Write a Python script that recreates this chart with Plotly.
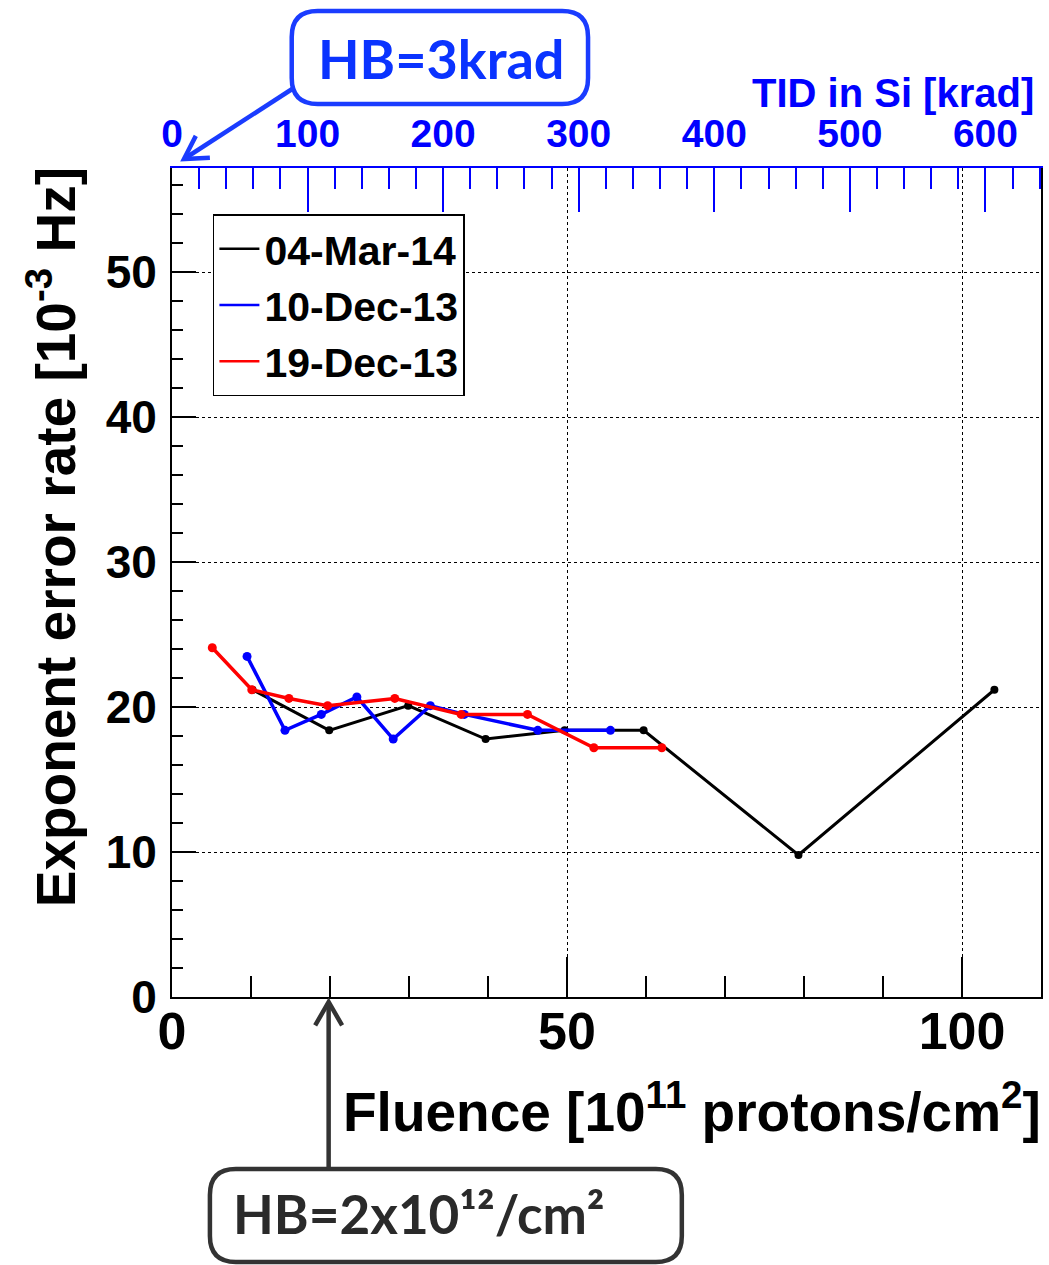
import numpy as np
import plotly.graph_objects as go

# ---------------- data ----------------
series_names = ["04-Mar-14", "10-Dec-13", "19-Dec-13"]
series_colors = ["#000000", "#0000ff", "#ff0000"]

fluence_mar14 = [10.2, 19.9, 29.9, 39.7, 49.7, 59.7, 79.3, 104.1]
rate_mar14 = [21.2, 18.4, 20.1, 17.8, 18.4, 18.4, 9.8, 21.2]

fluence_dec10 = [9.5, 14.3, 18.9, 23.4, 28.0, 32.7, 37.0, 46.3, 55.5]
rate_dec10 = [23.5, 18.4, 19.5, 20.7, 17.8, 20.1, 19.5, 18.4, 18.4]

fluence_dec19 = [5.1, 10.1, 14.8, 19.7, 28.2, 36.6, 45.0, 53.4, 62.0]
rate_dec19 = [24.1, 21.2, 20.6, 20.1, 20.6, 19.5, 19.5, 17.2, 17.2]

fluence_range = [0, 110]
rate_range = [0, 57.2]
tid_range = [0, 641]

# ---------------- layout geometry ----------------
W_FIG, H_FIG = 1049, 1265
L, R, T, B = 172, 1043, 168, 997
PW, PH = R - L, B - T


def pxx(p):
    return (p - L) / PW


def pxy(p):
    return (B - p) / PH


def rounded_rect(x0, y0, x1, y1, r):
    pts = [
        f"M {pxx(x0 + r)} {pxy(y0)}",
        f"L {pxx(x1 - r)} {pxy(y0)}",
        f"Q {pxx(x1)} {pxy(y0)} {pxx(x1)} {pxy(y0 + r)}",
        f"L {pxx(x1)} {pxy(y1 - r)}",
        f"Q {pxx(x1)} {pxy(y1)} {pxx(x1 - r)} {pxy(y1)}",
        f"L {pxx(x0 + r)} {pxy(y1)}",
        f"Q {pxx(x0)} {pxy(y1)} {pxx(x0)} {pxy(y1 - r)}",
        f"L {pxx(x0)} {pxy(y0 + r)}",
        f"Q {pxx(x0)} {pxy(y0)} {pxx(x0 + r)} {pxy(y0)}",
        "Z",
    ]
    return " ".join(pts)


def arrow_paths(tail, head, arm=24, ang=32):
    tx, ty = tail
    hx, hy = head
    v = np.array([tx - hx, ty - hy], dtype=float)
    v /= np.linalg.norm(v)
    a = np.radians(ang)
    rot = lambda t: np.array([[np.cos(t), -np.sin(t)], [np.sin(t), np.cos(t)]])
    p1 = np.array([hx, hy]) + arm * rot(a) @ v
    p2 = np.array([hx, hy]) + arm * rot(-a) @ v
    shaft = f"M {pxx(tx)} {pxy(ty)} L {pxx(hx)} {pxy(hy)}"
    head_p = (f"M {pxx(p1[0])} {pxy(p1[1])} L {pxx(hx)} {pxy(hy)} "
              f"L {pxx(p2[0])} {pxy(p2[1])}")
    return shaft, head_p


ROOTFONT = "Liberation Sans, Arial, Helvetica, sans-serif"
BOXFONT = "Lato, Open Sans, sans-serif"

fig = go.Figure()

data = [
    (fluence_mar14, rate_mar14, 3, 8),
    (fluence_dec10, rate_dec10, 3.5, 9),
    (fluence_dec19, rate_dec19, 3.5, 9),
]
for (xs, ys, lw, ms), name, col in zip(data, series_names, series_colors):
    fig.add_trace(go.Scatter(
        x=xs, y=ys, mode="lines+markers", name=name, showlegend=False,
        line=dict(color=col, width=lw), marker=dict(color=col, size=ms),
    ))

# legend-only entries (line samples)
for name, col in zip(series_names, series_colors):
    fig.add_trace(go.Scatter(
        x=[None], y=[None], mode="lines", name=name,
        line=dict(color=col, width=2.5), xaxis="x2",
    ))

fig.update_layout(
    width=W_FIG, height=H_FIG,
    margin=dict(l=L, r=W_FIG - R, t=T, b=H_FIG - B, pad=0),
    paper_bgcolor="white", plot_bgcolor="white",
    font=dict(family=ROOTFONT, color="black"),
    xaxis=dict(
        range=fluence_range, showline=True, linecolor="black", linewidth=2,
        mirror=False, ticks="inside", ticklen=40, tickwidth=1.5, tickcolor="black",
        dtick=50, tick0=0, showgrid=True, gridcolor="black", griddash="dot",
        gridwidth=1.2, zeroline=False,
        tickfont=dict(size=52, weight="bold", family=ROOTFONT),
        ticklabelstandoff=-12,
        minor=dict(dtick=10, ticks="inside", ticklen=21, tickwidth=1.5,
                   tickcolor="black", showgrid=False),
    ),
    xaxis2=dict(
        range=tid_range, overlaying="x", side="top", anchor="y",
        showline=True, linecolor="#0000ff", linewidth=2,
        ticks="inside", ticklen=44, tickwidth=1.5, tickcolor="#0000ff",
        dtick=100, tick0=0, showgrid=False, zeroline=False,
        tickfont=dict(size=39, weight="bold", color="#0000ff", family=ROOTFONT),
        ticklabelstandoff=3,
        minor=dict(dtick=20, ticks="inside", ticklen=21, tickwidth=1.5,
                   tickcolor="#0000ff", showgrid=False),
    ),
    yaxis=dict(
        range=rate_range, showline=True, linecolor="black", linewidth=2,
        mirror=True, ticks="inside", ticklen=24, tickwidth=1.5, tickcolor="black",
        dtick=10, tick0=0, showgrid=True, gridcolor="black", griddash="dot",
        gridwidth=1.2, zeroline=False,
        tickfont=dict(size=46, weight="bold", family=ROOTFONT),
        ticklabelstandoff=4,
        minor=dict(dtick=2, ticks="inside", ticklen=11, tickwidth=1.5,
                   tickcolor="black", showgrid=False),
    ),
    legend=dict(
        x=pxx(213), y=pxy(214), xanchor="left", yanchor="top",
        bordercolor="black", borderwidth=1.5, bgcolor="white",
        font=dict(size=41, weight="bold", family=ROOTFONT),
        itemwidth=40, tracegroupgap=0,
    ),
)

annotations = [
    dict(text="Exponent error rate [10<sup>-3</sup> Hz]", textangle=-90,
         x=pxx(52), y=pxy(165), xref="paper", yref="paper",
         xanchor="center", yanchor="top", showarrow=False,
         font=dict(size=55, weight="bold", family=ROOTFONT)),
    dict(text="Fluence [10<sup>11</sup> protons/cm<sup>2</sup>]",
         x=pxx(1045), y=pxy(1108), xref="paper", yref="paper",
         xanchor="right", yanchor="middle", showarrow=False,
         font=dict(size=55, weight="bold", family=ROOTFONT)),
    dict(text="TID in Si [krad]",
         x=pxx(1038), y=pxy(93), xref="paper", yref="paper",
         xanchor="right", yanchor="middle", showarrow=False,
         font=dict(size=40, weight="bold", color="#0000ff", family=ROOTFONT)),
    dict(text="HB=3krad",
         x=pxx(442), y=pxy(58), xref="paper", yref="paper",
         xanchor="center", yanchor="middle", showarrow=False,
         font=dict(size=54, weight="bold", color="#0a33ff", family=BOXFONT)),
    dict(text="HB=2x10¹²/cm²",
         x=pxx(420), y=pxy(1213), xref="paper", yref="paper",
         xanchor="center", yanchor="middle", showarrow=False,
         font=dict(size=53, weight="bold", color="#2a2a2a", family=BOXFONT)),
]
fig.update_layout(annotations=annotations)

shapes = []
# boxes
shapes.append(dict(type="path", xref="paper", yref="paper", layer="below",
                   path=rounded_rect(292, 11, 589, 104, 26),
                   line=dict(color="#1a3cff", width=4.5), fillcolor="white"))
shapes.append(dict(type="path", xref="paper", yref="paper", layer="below",
                   path=rounded_rect(210, 1169, 683, 1262, 26),
                   line=dict(color="#333333", width=4.5), fillcolor="white"))
# arrows
s1, h1 = arrow_paths((294, 88), (184, 159), arm=26, ang=30)
s2, h2 = arrow_paths((329, 1169), (329, 1002), arm=27, ang=30)
for p, c in [(s1, "#1a3cff"), (h1, "#1a3cff"), (s2, "#333333"), (h2, "#333333")]:
    shapes.append(dict(type="path", xref="paper", yref="paper", layer="above",
                       path=p, line=dict(color=c, width=4.5)))
fig.update_layout(shapes=shapes)

fig.write_html("out.html")
